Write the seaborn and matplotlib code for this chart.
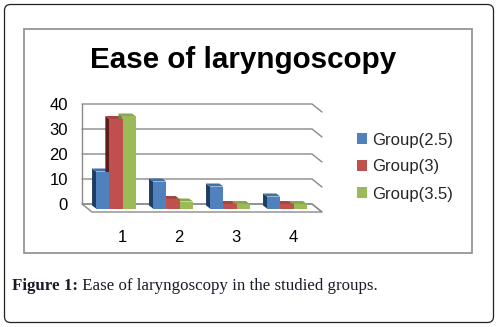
import numpy as np
import pandas as pd
import matplotlib
matplotlib.use("Agg")
import matplotlib.pyplot as plt
import seaborn as sns
from matplotlib.patches import Polygon, FancyBboxPatch, Rectangle
from matplotlib.transforms import ScaledTranslation

# ---- data ----
categories = ["1", "2", "3", "4"]
groups = ["Group(2.5)", "Group(3)", "Group(3.5)"]
group_25 = [13, 9, 7, 3]
group_3 = [34, 2, 0, 0]
group_35 = [35, 1, 0, 0]
y_ticks = [0, 10, 20, 30, 40]

title = "Ease of laryngoscopy"
caption_bold = "Figure 1:"
caption_rest = " Ease of laryngoscopy in the studied groups."

front_colors = ["#4F81BD", "#C0504D", "#9BBB59"]
side_colors = ["#1F3C63", "#5C1C1A", "#6E8A38"]
top_colors = ["#416FA6", "#A84542", "#88A84B"]

df = pd.DataFrame({
    "cat": categories * 3,
    "group": sum([[g] * 4 for g in groups], []),
    "value": group_25 + group_3 + group_35,
})

sns.set_theme(style="white")
plt.rcParams["font.family"] = ["Liberation Sans", "DejaVu Sans"]

W, H = 500, 327
fig = plt.figure(figsize=(W / 100, H / 100), dpi=100)

def px_box(x0, y0, x1, y1):
    return [x0 / W, 1 - y1 / H, (x1 - x0) / W, (y1 - y0) / H]

# axes box in pixels
AX_L, AX_R, AX_T, AX_B = 82, 322, 104, 213
ax = fig.add_axes(px_box(AX_L, AX_T, AX_R, AX_B))
cat_px0, cat_step = 116, 57
xlo = (AX_L - cat_px0) / cat_step
xhi = (AX_R - cat_px0) / cat_step
ppu = 2.5  # pixels per unit
ylo = 40 - (AX_B - AX_T) / ppu

sns.barplot(data=df, x="cat", y="value", hue="group", palette=front_colors,
            width=0.7, ax=ax, linewidth=0, saturation=1, legend=True)
ax.set_xlim(xlo, xhi)
ax.set_ylim(ylo, 40)
ax.set_xlabel("")
ax.set_ylabel("")
for s in ax.spines.values():
    s.set_visible(False)
ax.patch.set_alpha(0)

# depth geometry (in data units)
floor_dx = 10 / cat_step
floor_dy = 8 / ppu
bar_dx = 4 / cat_step
bar_dy = 3 / ppu
bar_bottom = -1.8
x_back_r = xhi - floor_dx

grid_c = "#8a8a8a"
# floor
ax.add_patch(Polygon([(xlo, 0), (x_back_r, 0), (xhi, -floor_dy), (xlo + floor_dx, -floor_dy)],
                     closed=True, facecolor="white", edgecolor=grid_c, lw=1.0, zorder=0.5, clip_on=False))
# left wall
ax.plot([xlo, xlo], [0, 40], color=grid_c, lw=1.0, zorder=0.6, clip_on=False)
# gridlines on back wall + side wall
for v in y_ticks:
    ax.plot([xlo, x_back_r, xhi], [v, v, v - floor_dy], color=grid_c, lw=1.0, zorder=0.6, clip_on=False)

# 3D-ish bars
n_cat = len(categories)
for i, p in enumerate(ax.patches[:3 * n_cat]):
    gi = i // n_cat
    h = p.get_height()
    x0 = p.get_x()
    w = p.get_width()
    top = h
    p.set_y(bar_bottom)
    p.set_height(top - bar_bottom)
    p.set_zorder(3)
    y0, y1 = bar_bottom, top
    side = Polygon([(x0, y0), (x0, y1), (x0 - bar_dx, y1 + bar_dy), (x0 - bar_dx, y0 + bar_dy)],
                   closed=True, facecolor=side_colors[gi], edgecolor="none", zorder=2.9)
    topf = Polygon([(x0, y1), (x0 + w, y1), (x0 + w - bar_dx, y1 + bar_dy), (x0 - bar_dx, y1 + bar_dy)],
                   closed=True, facecolor=top_colors[gi], edgecolor="none", zorder=2.9)
    ax.add_patch(side)
    ax.add_patch(topf)

ax.set_yticks(y_ticks)
ax.set_yticklabels([str(v) for v in y_ticks])
ax.tick_params(axis="both", length=0, labelsize=12, colors="black")
ax.tick_params(axis="y", pad=10)
ax.tick_params(axis="x", pad=12)
for lab in ax.get_xticklabels():
    lab.set_transform(lab.get_transform() + ScaledTranslation(6 / 100, 0, fig.dpi_scale_trans))

# legend
handles = [Rectangle((0, 0), 1, 1, facecolor=c, edgecolor="none") for c in front_colors]
ax.legend_.remove()
fig.legend(handles, groups, loc="center left", bbox_to_anchor=(357 / W, 1 - 167 / H),
           frameon=False, fontsize=12, handlelength=0.6, handleheight=0.6,
           handletextpad=0.3, labelspacing=0.72, borderpad=0, borderaxespad=0)

# title
fig.text(243 / W, 1 - 68 / H, title, ha="center", va="baseline", fontsize=21.3,
         fontweight="bold", color="black")

# inner chart frame
fig.add_artist(Rectangle((24 / 100, (H - 253) / 100), 448 / 100, 224 / 100,
                         transform=fig.dpi_scale_trans, facecolor="none",
                         edgecolor="#8c8c8c", lw=1.2))
# outer rounded border
fig.add_artist(FancyBboxPatch((4.5 / 100, 4.5 / 100), 489 / 100, 318 / 100,
                              boxstyle="round,pad=0,rounding_size=0.06",
                              transform=fig.dpi_scale_trans, facecolor="none",
                              edgecolor="#222222", lw=0.9))

# caption
cap_fs = 12.2
t1 = fig.text(12 / W, 1 - 290 / H, caption_bold, ha="left", va="baseline", fontsize=cap_fs,
              fontweight="bold", family=["Liberation Serif", "DejaVu Serif"], color="#1a1a2a")
fig.canvas.draw()
bb = t1.get_window_extent()
fig.text(bb.x1 / W, 1 - 290 / H, caption_rest, ha="left", va="baseline", fontsize=cap_fs,
         family=["Liberation Serif", "DejaVu Serif"], color="#1a1a2a")

fig.savefig("out.png", dpi=100)
